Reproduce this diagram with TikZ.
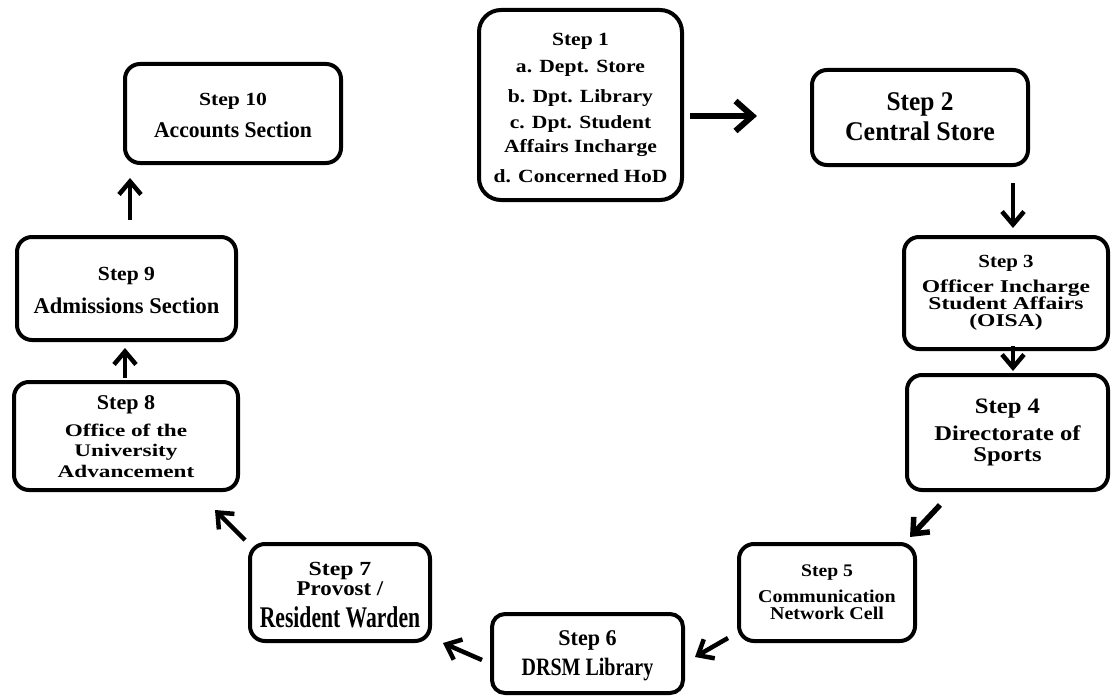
\documentclass[tikz,border=0pt]{standalone}
\usepackage{fontspec}
\setmainfont{Liberation Serif}
\usetikzlibrary{arrows.meta}
\newcommand\tline[3]{{\fontsize{#1pt}{#1pt}\selectfont\addfontfeature{FakeStretch=#2}#3}}
\newcommand\tstrut[1]{\rule{0pt}{#1pt}}
\newcommand\bstrut[1]{\rule[-#1pt]{0pt}{#1pt}}
\lineskiplimit=-100pt
\begin{document}
\begin{tikzpicture}[x=1pt,y=-1pt,
  stepbox/.style={draw, line width=4pt, rounded corners=15pt, inner sep=0pt, align=center,
    font=\bfseries\fontsize{10pt}{0pt}\selectfont},
  flow/.style={line width=4.5pt, -{Straight Barb[length=13pt,width=22pt]}}]
\useasboundingbox (0,0) rectangle (1113,698);

\node[stepbox, rounded corners=22pt, minimum width=203pt, minimum height=190pt] (s1) at (580.5,105)
 {\tline{18.6}{1.16}{\tstrut{30}Step 1}\\[28pt]
  \tline{18.6}{1.16}{a. Dept. Store}\\[29pt]
  \tline{18.6}{1.16}{b. Dpt. Library}\\[26pt]
  \tline{18.6}{1.16}{c. Dpt. Student}\\[24pt]
  \tline{18.6}{1.16}{Affairs Incharge}\\[30pt]
  \tline{18.6}{1.16}{d. Concerned HoD\bstrut{13}}};

\node[stepbox, minimum width=216pt, minimum height=87pt] (s2) at (920,117.5)
 {\tline{27}{0.94}{\tstrut{40}Step 2}\\[30pt]
  \tline{27}{0.96}{Central Store\bstrut{25}}};

\node[stepbox, minimum width=204pt, minimum height=98pt] (s3) at (1006,293)
 {\tline{18.5}{1.13}{\tstrut{30}Step 3}\\[25pt]
  \tline{18}{1.31}{Officer Incharge}\\[17pt]
  \tline{18}{1.31}{Student Affairs}\\[17pt]
  \tline{18}{1.31}{(OISA)\bstrut{23}}};

\node[stepbox, minimum width=201pt, minimum height=115pt] (s4) at (1007.5,432.5)
 {\tline{22}{1.12}{\tstrut{30}Step 4}\\[27pt]
  \tline{21}{1.17}{Directorate of}\\[21pt]
  \tline{21}{1.17}{Sports\bstrut{20}}};

\node[stepbox, minimum width=176pt, minimum height=97pt] (s5) at (827,592.5)
 {\tline{17.7}{1.11}{\tstrut{25}Step 5}\\[26pt]
  \tline{18}{1.11}{Communication}\\[17pt]
  \tline{18}{1.11}{Network Cell\bstrut{15}}};

\node[stepbox, rounded corners=13pt, minimum width=191pt, minimum height=79pt] (s6) at (587.5,653.5)
 {\tline{22.5}{0.98}{\tstrut{25}Step 6}\\[30pt]
  \tline{25}{0.8}{DRSM Library\bstrut{12}}};

\node[stepbox, minimum width=180pt, minimum height=97pt] (s7) at (340,592.5)
 {\tline{20}{1.19}{\tstrut{30}Step 7}\\[20pt]
  \tline{21}{1.09}{Provost /}\\[32pt]
  \tline{30}{0.72}{Resident Warden\bstrut{13}}};

\node[stepbox, minimum width=224pt, minimum height=108pt] (s8) at (126,436)
 {\tline{21}{1.05}{\tstrut{25}Step 8}\\[27pt]
  \tline{17.7}{1.31}{Office of the}\\[20pt]
  \tline{17.7}{1.31}{University}\\[21pt]
  \tline{17.7}{1.31}{Advancement\bstrut{11}}};

\node[stepbox, minimum width=219pt, minimum height=103pt] (s9) at (126.5,288.5)
 {\tline{20}{1.08}{\tstrut{25}Step 9}\\[33pt]
  \tline{22.5}{1.0}{Admissions Section\bstrut{9}}};

\node[stepbox, minimum width=216pt, minimum height=99pt] (s10) at (233,113.5)
 {\tline{18.5}{1.17}{\tstrut{25}Step 10}\\[32pt]
  \tline{22.5}{0.96}{Accounts Section\bstrut{10}}};

\coordinate (a12s) at (690,116);   \coordinate (a12e) at (757,116);
\coordinate (a23s) at (1013,183);  \coordinate (a23e) at (1013,228);
\coordinate (a34s) at (1013,346);  \coordinate (a34e) at (1013,371);
\coordinate (a45s) at (940,505);   \coordinate (a45e) at (910,537);
\coordinate (a56s) at (728,638);   \coordinate (a56e) at (695,657);
\coordinate (a67s) at (482,660);   \coordinate (a67e) at (443,643);
\coordinate (a78s) at (245,540);   \coordinate (a78e) at (215,510);
\coordinate (a89s) at (125,378);   \coordinate (a89e) at (125,348);
\coordinate (a910s) at (130,220);  \coordinate (a910e) at (130,178);

\draw[flow, line width=6pt, -{Straight Barb[length=17pt,width=30pt]}] (a12s) -- (a12e);
\draw[flow] (a23s) -- (a23e);
\draw[flow] (a34s) -- (a34e);
\draw[flow, line width=5.5pt] (a45s) -- (a45e);
\draw[flow] (a56s) -- (a56e);
\draw[flow] (a67s) -- (a67e);
\draw[flow] (a78s) -- (a78e);
\draw[flow] (a89s) -- (a89e);
\draw[flow] (a910s) -- (a910e);
\end{tikzpicture}
\end{document}
